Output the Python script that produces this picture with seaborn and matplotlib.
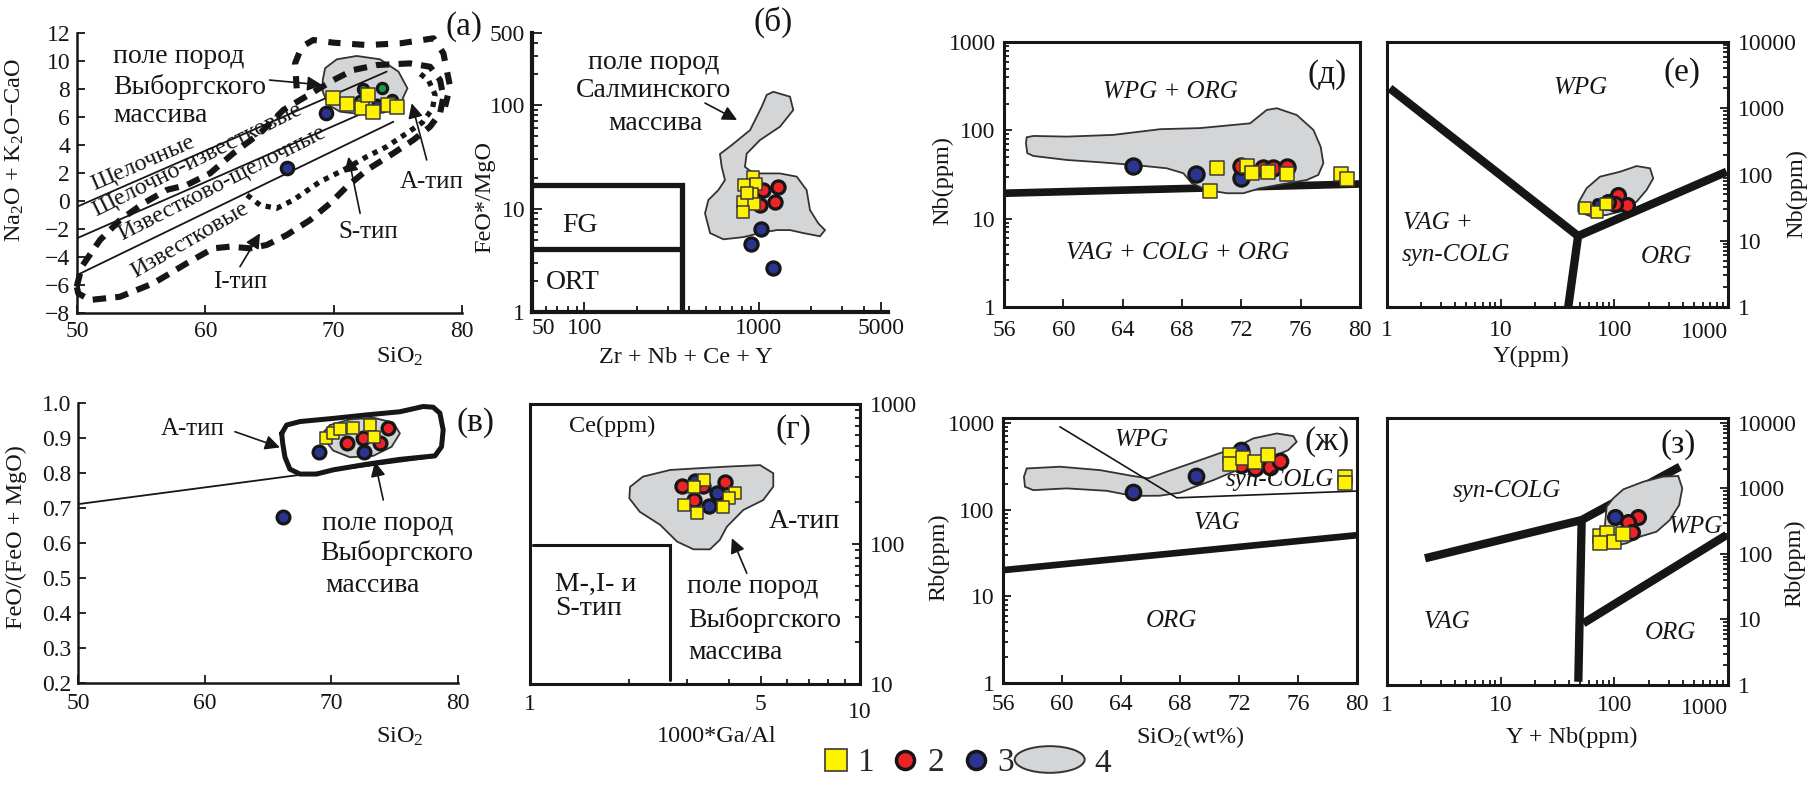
import numpy as np
import matplotlib
matplotlib.use("Agg")
import matplotlib.pyplot as plt
import matplotlib.transforms as mtrans
import seaborn as sns
from matplotlib.lines import Line2D
from matplotlib.patches import Ellipse, Patch
from matplotlib.legend_handler import HandlerPatch
from matplotlib.ticker import LogLocator, NullFormatter

W, H = 1814, 786

YEL = "#fff200"
RED = "#ec2327"
BLUE = "#2b3590"
GREEN = "#1c9a4c"
FIELD = "#d4d5d7"
INK = "#161616"

# ---------------- (а) Na2O+K2O-CaO vs SiO2 ----------------
a_sq_x = [69.98, 71.02, 72.19, 72.71, 73.09, 74.26, 74.92]
a_sq_y = [7.34, 6.91, 6.67, 7.57, 6.38, 6.86, 6.69]
a_green_x = [72.31, 73.74, 72.06, 74.53]
a_green_y = [7.98, 8.05, 7.16, 7.21]
a_blue_x = [69.4, 66.39]
a_blue_y = [6.26, 2.33]
a_blue_small_x = [73.35]
a_blue_small_y = [6.93]
a_field_x = [69.33, 70.24, 71.80, 73.62, 75.05, 75.75, 75.44, 75.18, 73.88, 72.06, 70.50, 69.59, 69.15, 69.15]
a_field_y = [9.48, 10.12, 10.36, 10.12, 9.24, 8.05, 7.45, 6.74, 6.31, 6.21, 6.38, 6.86, 7.81, 8.64]
a_l1_x, a_l1_y = [50, 74.13], [-0.41, 9.24]
a_l2_x, a_l2_y = [50, 74.9], [-2.66, 7.33]
a_l3_x, a_l3_y = [50, 74.65], [-5.29, 5.66]
a_A_x = [67.12, 66.99, 67.51, 68.42, 69.98, 72.58, 75.18, 77.78, 78.55, 78.81, 79.07, 78.68]
a_A_y = [8.05, 9.83, 11.02, 11.5, 11.31, 11.14, 11.26, 11.62, 10.55, 9.36, 8.17, 6.74]
a_I_x = [49.98, 50.37, 51.79, 53.35, 55.17, 56.99, 58.55, 60.37, 62.18, 64.26, 66.08, 67.38,
         69.98, 71.54, 73.36, 75.95, 77.51, 78.29, 78.55, 78.29, 77.51, 76.21, 74.65, 72.58,
         71.02, 69.72, 68.16, 66.34, 64.78, 63.48, 61.93, 60.62, 58.55, 55.95, 53.35, 51.01, 50.1, 49.98]
a_I_y = [-6.12, -4.69, -2.79, -1.36, -0.17, 0.79, 1.14, 1.98, 3.41, 4.84, 6.50, 7.21,
         8.64, 9.36, 9.71, 9.83, 9.59, 8.64, 7.45, 6.26, 5.31, 4.36, 3.41, 2.21,
         1.02, -0.17, -1.36, -2.43, -3.14, -3.38, -3.26, -3.38, -4.45, -5.88, -6.84, -7.07, -6.6, -6.12]
a_S_x = [63.25, 64.26, 65.56, 66.86, 68.94, 70.76, 72.58, 74.13, 75.69, 76.9, 77.7, 77.9, 77.4, 76.6]
a_S_y = [0.43, -0.29, -0.52, 0.07, 1.38, 2.21, 3.17, 3.88, 4.84, 5.6, 6.6, 7.6, 8.6, 9.2]

# ---------------- (б) FeO*/MgO vs Zr+Nb+Ce+Y ----------------
b_sq_x = [921, 825, 962, 910, 807, 937, 807, 857]
b_sq_y = [20.4, 16.9, 17.2, 13.8, 11.7, 11.2, 9.3, 14.1]
b_red_x = [1059, 1292, 1013, 1236]
b_red_y = [15.1, 16.1, 10.8, 11.7]
b_blue_x = [1023, 901, 1211]
b_blue_y = [6.35, 4.52, 2.68]
b_field_x = [1211, 1508, 1575, 1321, 1014, 851, 832, 929, 1321, 1648, 1879, 1963, 2192, 2393, 2240,
             1797, 1508, 1265, 1014, 814, 626, 525, 491, 513, 585, 639, 612, 598, 699, 890, 1038, 1109]
b_field_y = [135, 121, 90, 62, 46, 34, 25.4, 21.9, 21.9, 20.4, 15.1, 9.7, 7.2, 6.2, 5.4,
             5.8, 6.2, 6.2, 5.8, 5.3, 5.05, 5.8, 9.0, 12.1, 15.1, 18.9, 25.4, 33.7, 41.2, 57.5, 96.7, 126]
b_fg_x, b_fg_y = [50, 360, 360], [16.9, 16.9, 1]
b_ort_x, b_ort_y = [50, 360], [4.04, 4.04]

# ---------------- (д) Nb vs SiO2 ----------------
d_sq_x = [70.34, 69.89, 72.41, 72.74, 73.82, 75.06, 78.70, 79.15]
d_sq_y = [37.2, 20.7, 39.8, 32.7, 33.5, 31.8, 32.1, 28.1]
d_red_x = [71.96, 73.49, 74.16, 75.06]
d_red_y = [39.8, 37.8, 37.8, 38.8]
d_blue_x = [64.72, 68.95, 71.96]
d_blue_y = [39.8, 32.1, 28.7]
d_field_x = [57.53, 57.98, 60.23, 63.37, 66.52, 69.22, 72.59, 73.71, 74.39, 75.74, 76.86, 77.35, 77.53,
             77.19, 76.41, 74.84, 73.26, 72.14, 71.02, 69.67, 68.66, 68.09, 66.97, 64.72, 62.47,
             60.23, 57.98, 57.57, 57.48]
d_field_y = [83.5, 86.4, 84.9, 88.8, 103, 106, 120, 170, 178, 149, 101, 65, 42.4,
             31.3, 27.4, 24.7, 22.1, 19.4, 19.4, 21.1, 25.2, 32.7, 37.2, 40.6, 43.5,
             46.2, 51.3, 55.1, 71.4]
d_line_x, d_line_y = [56, 80], [19.4, 24.7]

# ---------------- (е) Nb vs Y ----------------
e_sq_x = [55, 70.8, 84.4]
e_sq_y = [30.9, 26.9, 35.9]
e_red_x = [108, 128, 101, 88]
e_red_y = [49, 34.7, 35.9, 38.9]
e_blue_x = [70.8]
e_blue_y = [36.7]
e_field_x = [49.8, 57, 74.7, 112, 157, 206, 220, 192, 157, 120, 85.5, 61, 48.2, 48.2]
e_field_y = [41.2, 62, 92.7, 110, 134, 124, 87.5, 58.3, 38.9, 28.4, 24.5, 23.6, 27.5, 35.9]
e_l1_x, e_l1_y = [1.06, 48, 972], [2000, 11.8, 110]
e_l2_x, e_l2_y = [48, 39.3], [11.8, 1]

# ---------------- (в) FeO/(FeO+MgO) vs SiO2 ----------------
v_sq_x = [69.57, 70.10, 70.68, 71.68, 73.05, 73.36]
v_sq_y = [0.899, 0.913, 0.925, 0.930, 0.936, 0.902]
v_red_x = [71.21, 72.47, 73.84, 74.49]
v_red_y = [0.887, 0.901, 0.887, 0.928]
v_blue_x = [69.05, 72.57, 66.16]
v_blue_y = [0.861, 0.861, 0.675]
v_box_x = [66.08, 66.47, 67.52, 70.15, 72.78, 75.41, 77.25, 78.04, 78.57, 78.83, 78.70, 78.18,
           75.41, 72.78, 70.15, 68.83, 67.52, 66.73, 66.34, 66.16, 66.08]
v_box_y = [0.913, 0.937, 0.947, 0.956, 0.966, 0.975, 0.990, 0.988, 0.971, 0.923, 0.875, 0.849,
           0.839, 0.825, 0.809, 0.797, 0.797, 0.811, 0.845, 0.885, 0.913]
v_field_x = [69.89, 71.47, 73.31, 74.89, 75.41, 74.76, 73.31, 71.47, 70.15, 69.49, 69.42]
v_field_y = [0.937, 0.953, 0.958, 0.944, 0.913, 0.875, 0.849, 0.845, 0.864, 0.894, 0.918]
v_line_x, v_line_y = [50, 78.04], [0.711, 0.845]

# ---------------- (г) Ce vs 1000*Ga/Al ----------------
g_sq_x = [3.37, 3.15, 4.18, 4.02, 3.85, 2.93, 3.20]
g_sq_y = [287, 254, 230, 212, 185, 190, 166]
g_red_x = [2.88, 3.35, 3.90, 3.13]
g_red_y = [259, 259, 279, 206]
g_blue_x = [3.16, 3.68, 3.49]
g_blue_y = [283, 230, 187]
g_field_x = [2.01, 2.20, 2.66, 3.20, 3.95, 4.98, 5.46, 5.46, 5.09, 4.43, 3.95, 3.76, 3.51, 3.13,
             2.79, 2.48, 2.15, 2.00]
g_field_y = [256, 303, 338, 347, 357, 366, 320, 257, 206, 175, 133, 107, 91.6, 91.6,
             104, 137, 170, 212]
g_line_x, g_line_y = [1.02, 2.66, 2.66], [98.4, 98.4, 10.7]

# ---------------- (ж) Rb vs SiO2 ----------------
zh_sq_x = [71.39, 71.39, 72.29, 73.08, 73.99, 79.19, 79.19]
zh_sq_y = [426, 336, 390, 357, 426, 236, 204]
zh_red_x = [72.11, 73.08, 74.10, 74.78]
zh_red_y = [327, 299, 313, 367]
zh_blue_x = [64.83, 69.08, 72.11]
zh_blue_y = [158, 244, 487]
zh_field_x = [57.61, 59.86, 62.58, 64.83, 65.85, 67.10, 69.36, 71.61, 72.97, 74.56, 75.68, 75.91,
              75.34, 74.56, 73.42, 71.61, 70.26, 68.90, 68.0, 66.64, 64.83, 63.03, 60.32, 58.05,
              57.49, 57.42]
zh_field_y = [299, 313, 286, 244, 230, 274, 373, 509, 664, 758, 706, 607,
              487, 426, 357, 274, 219, 181, 157, 145, 144, 165, 176, 168, 184, 240]
zh_thin_x, zh_thin_y = [59.86, 67.78, 79.98], [904, 137, 164]
zh_thick_x, zh_thick_y = [56.07, 80.09], [20.1, 50.9]

# ---------------- (з) Rb vs Y+Nb ----------------
z_sq_x = [74.7, 86.6, 99.8, 120, 74.7]
z_sq_y = [190, 211, 154, 202, 146]
z_red_x = [162, 133, 142]
z_red_y = [371, 311, 219]
z_blue_x = [101]
z_blue_y = [371]
z_field_x = [85.6, 97.8, 120, 180, 269, 365, 396, 372, 308, 235, 168, 128, 91.5, 77.3, 82.7]
z_field_y = [527, 708, 971, 1270, 1515, 1552, 1006, 560, 330, 219, 184, 146, 129, 154, 277]
z_l1_x, z_l1_y = [2.16, 51.6, 378], [86, 330, 2150]
z_l2_x, z_l2_y = [51.6, 48.2], [330, 1.12]
z_l3_x, z_l3_y = [53.3, 972], [8.75, 195]

legend_labels = ["1", "2", "3", "4"]

sns.set_theme(style="ticks")
plt.rcParams["font.family"] = ["Liberation Serif", "DejaVu Serif"]
plt.rcParams["mathtext.fontset"] = "custom"
plt.rcParams["mathtext.rm"] = "Liberation Serif"
plt.rcParams["mathtext.it"] = "Liberation Serif:italic"
plt.rcParams["axes.unicode_minus"] = True

fig = plt.figure(figsize=(W / 100, H / 100), dpi=100)


def make_ax(l, r, t, b):
    return fig.add_axes([l / W, 1 - b / H, (r - l) / W, (b - t) / H])


def style(ax, sides, lw=2.0, size=17, maj=6, mnr=3.5, xpad=7, ypad=5):
    for k, sp in ax.spines.items():
        sp.set_visible(k in sides)
        sp.set_linewidth(lw)
        sp.set_color(INK)
    ax.tick_params(which="both", direction="in", colors=INK, labelsize=size, width=1.3)
    ax.tick_params(which="major", length=maj)
    ax.tick_params(which="minor", length=mnr)
    ax.tick_params(axis="x", which="both", pad=xpad)
    ax.tick_params(axis="y", which="both", pad=ypad)
    ax.grid(False)


def log_minor(axis):
    axis.set_minor_locator(LogLocator(base=10, subs=np.arange(2, 10), numticks=30))
    axis.set_minor_formatter(NullFormatter())


def last_xlabel_right(ax):
    # the last x tick label sits left of the frame corner, as in the original
    ax.get_xticklabels()[-1].set_horizontalalignment("right")


def first_xlabel_left(ax):
    ax.get_xticklabels()[0].set_horizontalalignment("left")


def drop_last_xlabel(ax, pts_down):
    lab = ax.get_xticklabels()[-1]
    lab.set_transform(lab.get_transform() +
                      mtrans.ScaledTranslation(0, -pts_down / 72, fig.dpi_scale_trans))


def field(ax, x, y, z=2, lw=1.3):
    ax.fill(x, y, facecolor=FIELD, edgecolor="#333333", linewidth=lw, zorder=z)


def pts(ax, x, y, kind, s, z=6):
    if kind == "sq":
        sns.scatterplot(x=x, y=y, ax=ax, marker="s", s=s, color=YEL, edgecolor="#3a3a3a",
                        linewidth=1.1, zorder=z, legend=False)
    else:
        face = {"red": RED, "blue": BLUE, "green": GREEN}[kind]
        sns.scatterplot(x=x, y=y, ax=ax, marker="o", s=s, color=face, edgecolor=INK,
                        linewidth=2.3, zorder=z, legend=False)


def arrow(ax, start, end, lw=1.2, ms=22):
    ax.annotate("", xy=end, xytext=start, annotation_clip=False,
                arrowprops=dict(arrowstyle="-|>", color=INK, lw=lw, mutation_scale=ms,
                                shrinkA=0, shrinkB=0))


def ylab(ax, text, fx, fy, right=False, **kw):
    if right:
        ax.yaxis.set_label_position("right")
    ax.set_ylabel(text, fontsize=17.5, color=INK, va="center", ha="center", **kw)
    ax.yaxis.set_label_coords(fx, fy)


def xlab(ax, text, fx, fy):
    ax.set_xlabel(text, fontsize=17.5, color=INK, va="center", ha="center")
    ax.xaxis.set_label_coords(fx, fy)


def plabel(text, x, y):
    fig.text(x / W, 1 - y / H, text, fontsize=24, ha="center", va="center", color=INK)


TXT = dict(fontsize=20, color=INK)
ITXT = dict(fontsize=18, color=INK, fontstyle="italic")

# ===== (а) =====
ax = make_ax(77, 462, 33, 313)
style(ax, ["left", "bottom"], lw=1.8, xpad=6)
ax.set_xlim(50, 80)
ax.set_ylim(-8, 12)
ax.set_xticks([50, 60, 70, 80])
ax.set_yticks(range(-8, 13, 2))
field(ax, a_field_x, a_field_y, z=2)
for lx, ly in [(a_l1_x, a_l1_y), (a_l2_x, a_l2_y), (a_l3_x, a_l3_y)]:
    ax.plot(lx, ly, color=INK, lw=1.3, zorder=4)
ax.plot(a_I_x, a_I_y, color=INK, lw=4.4, ls=(0, (2.2, 1.5)), zorder=3, clip_on=False)
ax.plot(a_S_x, a_S_y, color=INK, lw=3.8, ls=(0, (1.0, 1.1)), zorder=3)
ax.plot(a_A_x, a_A_y, color=INK, lw=4.4, ls=(0, (2.0, 1.9)), zorder=3)
pts(ax, a_green_x, a_green_y, "green", 55, z=5)
pts(ax, a_blue_x, a_blue_y, "blue", 80, z=5)
pts(ax, a_blue_small_x, a_blue_small_y, "blue", 40, z=5)
pts(ax, a_sq_x, a_sq_y, "sq", 90, z=6)
ax.text(52.8, 10.29, "поле пород", ha="left", va="center", **TXT)
ax.text(52.8, 8.14, "Выборгского", ha="left", va="center", **TXT)
ax.text(52.8, 6.14, "массива", ha="left", va="center", **TXT)
rot = dict(ha="center", va="center", rotation_mode="anchor", fontsize=17.5, color=INK, zorder=7)
ax.text(55.15, 2.71, "Щелочные", rotation=23.5, **rot)
ax.text(59.35, 2.93, "Щелочно-известковые", rotation=26.5, **rot)
ax.text(61.3, 1.29, "Известково-щелочные", rotation=27, **rot)
ax.text(58.8, -2.79, "Известковые", rotation=30, **rot)
ax.text(75.18, 1.36, "A-тип", ha="left", va="center", fontsize=18, color=INK)
ax.text(72.7, -2.2, "S-тип", ha="center", va="center", fontsize=18, color=INK)
ax.text(62.7, -5.8, "I-тип", ha="center", va="center", fontsize=18, color=INK)
arrow(ax, (65.0, 8.64), (69.09, 8.29))
arrow(ax, (77.25, 2.93), (76.08, 6.98))
arrow(ax, (72.06, -0.88), (71.15, 3.16))
arrow(ax, (62.7, -4.69), (64.26, -2.31))
xlab(ax, "SiO$_2$", 0.839, -0.155)
ylab(ax, "Na$_2$O + K$_2$O−CaO", -0.161, 0.582)
plabel("(а)", 464, 27)

# ===== (б) =====
ax = make_ax(532, 888, 33, 312)
style(ax, ["left", "bottom"], lw=3, maj=7, mnr=4.5, xpad=4)
ax.set_xscale("log")
ax.set_yscale("log")
ax.set_xlim(50, 5500)
ax.set_ylim(1, 500)
log_minor(ax.xaxis)
log_minor(ax.yaxis)
ax.set_xticks([50, 100, 1000, 5000], ["50", "100", "1000", "5000"])
ax.set_yticks([1, 10, 100, 500], ["1", "10", "100", "500"])
first_xlabel_left(ax)
ax.plot(b_fg_x, b_fg_y, color=INK, lw=3.8, solid_joinstyle="miter", zorder=3)
ax.plot(b_ort_x, b_ort_y, color=INK, lw=3.8, zorder=3)
field(ax, b_field_x, b_field_y)
pts(ax, b_blue_x, b_blue_y, "blue", 90)
pts(ax, b_red_x, b_red_y, "red", 90)
pts(ax, b_sq_x, b_sq_y, "sq", 65, z=7)
ax.text(94, 6.9, "FG", ha="center", va="center", **TXT)
ax.text(86, 1.95, "ORT", ha="center", va="center", **TXT)
ax.text(250, 262, "поле пород", ha="center", va="center", **TXT)
ax.text(250, 140, "Салминского", ha="center", va="center", **TXT)
ax.text(255, 67.3, "массива", ha="center", va="center", **TXT)
arrow(ax, (491, 105), (750, 72))
xlab(ax, "Zr + Nb + Ce + Y", 0.433, -0.162)
ylab(ax, "FeO*/MgO", -0.132, 0.412)
plabel("(б)", 773, 22)

# ===== (д) =====
ax = make_ax(1004, 1360, 42, 307)
style(ax, ["left", "bottom", "top", "right"], lw=2.2, xpad=9, ypad=6)
ax.set_yscale("log")
ax.set_xlim(56, 80)
ax.set_ylim(1, 1000)
log_minor(ax.yaxis)
ax.set_xticks(range(56, 81, 4))
ax.set_yticks([1, 10, 100, 1000], ["1", "10", "100", "1000"])
ax.plot(d_line_x, d_line_y, color=INK, lw=5.5, solid_capstyle="butt", zorder=2)
field(ax, d_field_x, d_field_y, z=3)
pts(ax, d_blue_x, d_blue_y, "blue", 120)
pts(ax, d_red_x, d_red_y, "red", 120)
pts(ax, d_sq_x, d_sq_y, "sq", 95, z=7)
ax.text(67.19, 272, "WPG + ORG", ha="center", va="center", **ITXT)
ax.text(67.73, 4.1, "VAG + COLG + ORG", ha="center", va="center", **ITXT)
ylab(ax, "Nb(ppm)", -0.171, 0.479)
plabel("(д)", 1327, 75)

# ===== (е) =====
ax = make_ax(1387, 1728, 42, 307)
style(ax, ["left", "bottom", "top", "right"], lw=2.2, xpad=9, ypad=7)
ax.set_xscale("log")
ax.set_yscale("log")
ax.set_xlim(1, 1000)
ax.set_ylim(1, 10000)
log_minor(ax.xaxis)
log_minor(ax.yaxis)
ax.yaxis.tick_right()
ax.tick_params(which="both", left=False, right=True, labelleft=False, labelright=True)
ax.set_xticks([1, 10, 100, 1000], ["1", "10", "100", "1000"])
ax.set_yticks([1, 10, 100, 1000, 10000], ["1", "10", "100", "1000", "10000"])
last_xlabel_right(ax)
drop_last_xlabel(ax, 2)
ax.plot(e_l1_x, e_l1_y, color=INK, lw=6, solid_joinstyle="miter", solid_capstyle="butt", zorder=2)
ax.plot(e_l2_x, e_l2_y, color=INK, lw=6, solid_capstyle="butt", zorder=2)
field(ax, e_field_x, e_field_y, z=3)
pts(ax, e_red_x, e_red_y, "red", 100)
pts(ax, e_blue_x, e_blue_y, "blue", 30)
pts(ax, e_sq_x, e_sq_y, "sq", 85, z=7)
ax.text(49.8, 2020, "WPG", ha="center", va="center", **ITXT)
ax.text(1.38, 18.7, "VAG +", ha="left", va="center", **ITXT)
ax.text(1.35, 6.1, "syn-COLG", ha="left", va="center", **ITXT)
ax.text(288, 5.75, "ORG", ha="center", va="center", **ITXT)
xlab(ax, "Y(ppm)", 0.422, -0.185)
ylab(ax, "Nb(ppm)", 1.2, 0.43, right=True)
plabel("(е)", 1682, 73)

# ===== (в) =====
ax = make_ax(78, 458, 403, 683)
style(ax, ["left", "bottom"], lw=1.8)
ax.set_xlim(50, 80)
ax.set_ylim(0.2, 1.0)
ax.set_xticks([50, 60, 70, 80])
v_ticks = [0.2, 0.3, 0.4, 0.5, 0.6, 0.7, 0.8, 0.9, 1.0]
ax.set_yticks(v_ticks, [f"{t:.1f}" for t in v_ticks])
ax.plot(v_line_x, v_line_y, color=INK, lw=1.3, zorder=2)
ax.plot(v_box_x, v_box_y, color=INK, lw=3.6, solid_joinstyle="round", zorder=3)
field(ax, v_field_x, v_field_y, z=4)
pts(ax, v_blue_x, v_blue_y, "blue", 85)
pts(ax, v_red_x, v_red_y, "red", 85)
pts(ax, v_sq_x, v_sq_y, "sq", 70, z=7)
ax.text(59.08, 0.926, "A-тип", ha="center", va="center", fontsize=18, color=INK)
arrow(ax, (62.39, 0.918), (65.94, 0.873))
ax.text(69.26, 0.657, "поле пород", ha="left", va="center", **TXT)
ax.text(69.1, 0.570, "Выборгского", ha="left", va="center", **TXT)
ax.text(69.5, 0.480, "массива", ha="left", va="center", **TXT)
arrow(ax, (74.10, 0.723), (73.44, 0.832))
xlab(ax, "SiO$_2$", 0.847, -0.193)
ylab(ax, "FeO/(FeO + MgO)", -0.161, 0.521)
plabel("(в)", 475, 423)

# ===== (г) =====
ax = make_ax(530, 860, 404, 684)
style(ax, ["left", "bottom", "top", "right"], lw=2.2, ypad=7)
ax.set_xscale("log")
ax.set_yscale("log")
ax.set_xlim(1, 10)
ax.set_ylim(10, 1000)
log_minor(ax.xaxis)
log_minor(ax.yaxis)
ax.yaxis.tick_right()
ax.tick_params(which="both", left=False, right=True, labelleft=False, labelright=True)
ax.set_xticks([1, 5, 10], ["1", "5", "10"])
ax.set_yticks([10, 100, 1000], ["10", "100", "1000"])
drop_last_xlabel(ax, 6)
ax.plot(g_line_x, g_line_y, color=INK, lw=2.2, solid_joinstyle="miter", zorder=2)
field(ax, g_field_x, g_field_y, z=3)
pts(ax, g_red_x, g_red_y, "red", 90)
pts(ax, g_blue_x, g_blue_y, "blue", 90)
pts(ax, g_sq_x, g_sq_y, "sq", 70, z=7)
ax.text(0.076, 0.354, "M-,I- и", transform=ax.transAxes, ha="left", va="center", **TXT)
ax.text(0.076, 0.271, "S-тип", transform=ax.transAxes, ha="left", va="center", **TXT)
ax.text(0.833, 0.580, "A-тип", transform=ax.transAxes, ha="center", va="center", **TXT)
ax.text(0.475, 0.348, "поле пород", transform=ax.transAxes, ha="left", va="center", **TXT)
ax.text(0.480, 0.229, "Выборгского", transform=ax.transAxes, ha="left", va="center", **TXT)
ax.text(0.479, 0.111, "массива", transform=ax.transAxes, ha="left", va="center", **TXT)
arrow(ax, (4.54, 61.8), (4.09, 110))
xlab(ax, "1000*Ga/Al", 0.567, -0.189)
ax.set_ylabel("Ce(ppm)", fontsize=17.5, color=INK, rotation=0, va="center", ha="center")
ax.yaxis.set_label_coords(0.248, 0.919)
plabel("(г)", 793, 430)

# ===== (ж) =====
ax = make_ax(1003, 1357, 418, 683)
style(ax, ["left", "bottom", "top", "right"], lw=2.2, xpad=8, ypad=6)
ax.set_yscale("log")
ax.set_xlim(56, 80)
ax.set_ylim(1, 1142)
log_minor(ax.yaxis)
ax.set_xticks(range(56, 81, 4))
ax.set_yticks([1, 10, 100, 1000], ["1", "10", "100", "1000"])
ax.plot(zh_thick_x, zh_thick_y, color=INK, lw=4.8, solid_capstyle="butt", zorder=2)
field(ax, zh_field_x, zh_field_y, z=3)
ax.plot(zh_thin_x, zh_thin_y, color=INK, lw=1.2, zorder=4)
pts(ax, zh_blue_x, zh_blue_y, "blue", 110)
pts(ax, zh_red_x, zh_red_y, "red", 110)
pts(ax, zh_sq_x, zh_sq_y, "sq", 90, z=7)
ax.text(65.40, 635, "WPG", ha="center", va="center", **ITXT)
ax.text(74.78, 219, "syn-COLG", ha="center", va="center", zorder=6, **ITXT)
ax.text(70.49, 70.6, "VAG", ha="center", va="center", **ITXT)
ax.text(67.44, 5.2, "ORG", ha="center", va="center", **ITXT)
xlab(ax, "SiO$_2$(wt%)", 0.528, -0.204)
ylab(ax, "Rb(ppm)", -0.181, 0.475)
plabel("(ж)", 1327, 442)

# ===== (з) =====
ax = make_ax(1387, 1728, 418, 685)
style(ax, ["left", "bottom", "top", "right"], lw=2.2, ypad=7)
ax.set_xscale("log")
ax.set_yscale("log")
ax.set_xlim(1, 1000)
ax.set_ylim(1, 11920)
log_minor(ax.xaxis)
log_minor(ax.yaxis)
ax.yaxis.tick_right()
ax.tick_params(which="both", left=False, right=True, labelleft=False, labelright=True)
ax.set_xticks([1, 10, 100, 1000], ["1", "10", "100", "1000"])
ax.set_yticks([1, 10, 100, 1000, 10000], ["1", "10", "100", "1000", "10000"])
last_xlabel_right(ax)
drop_last_xlabel(ax, 2)
for lx, ly in [(z_l1_x, z_l1_y), (z_l2_x, z_l2_y), (z_l3_x, z_l3_y)]:
    ax.plot(lx, ly, color=INK, lw=6, solid_joinstyle="miter", solid_capstyle="butt", zorder=2)
field(ax, z_field_x, z_field_y, z=3)
pts(ax, z_blue_x, z_blue_y, "blue", 100)
pts(ax, z_red_x, z_red_y, "red", 100)
pts(ax, z_sq_x, z_sq_y, "sq", 90, z=7)
ax.text(11.3, 925, "syn-COLG", ha="center", va="center", **ITXT)
ax.text(3.35, 9.06, "VAG", ha="center", va="center", **ITXT)
ax.text(308, 6.15, "ORG", ha="center", va="center", **ITXT)
ax.text(512, 261, "WPG", ha="center", va="center", **ITXT)
xlab(ax, "Y + Nb(ppm)", 0.542, -0.195)
ylab(ax, "Rb(ppm)", 1.196, 0.457, right=True)
plabel("(з)", 1678, 445)


# ===== legend =====
class HandlerEllipse(HandlerPatch):
    def create_artists(self, legend, orig_handle, xdescent, ydescent, width, height, fontsize, trans):
        center = 0.5 * width - 0.5 * xdescent, 0.5 * height - 0.5 * ydescent
        p = Ellipse(xy=center, width=width + xdescent, height=height + ydescent)
        self.update_prop(p, orig_handle, legend)
        p.set_transform(trans)
        return [p]


h_sq = Line2D([], [], ls="", marker="s", ms=16, mfc=YEL, mec="#3a3a3a", mew=1.2)
h_red = Line2D([], [], ls="", marker="o", ms=13, mfc=RED, mec=INK, mew=2.5)
h_blue = Line2D([], [], ls="", marker="o", ms=13, mfc=BLUE, mec=INK, mew=2.5)
h_field = Patch(facecolor=FIELD, edgecolor="#333333", linewidth=1.4)

leg1 = fig.legend([h_sq, h_red, h_blue], legend_labels[:3], loc="center",
                  bbox_to_anchor=(918 / W, 1 - 763 / H), ncol=3, frameon=False, fontsize=24,
                  handlelength=0.8, handletextpad=0.25, columnspacing=0.55, borderpad=0)
leg2 = fig.legend([h_field], legend_labels[3:], loc="center",
                  bbox_to_anchor=(1063 / W, 1 - 763 / H), frameon=False, fontsize=24,
                  handlelength=2.1, handleheight=0.8, handletextpad=0.3, borderpad=0,
                  handler_map={Patch: HandlerEllipse()})

fig.savefig("out.png", dpi=100)
